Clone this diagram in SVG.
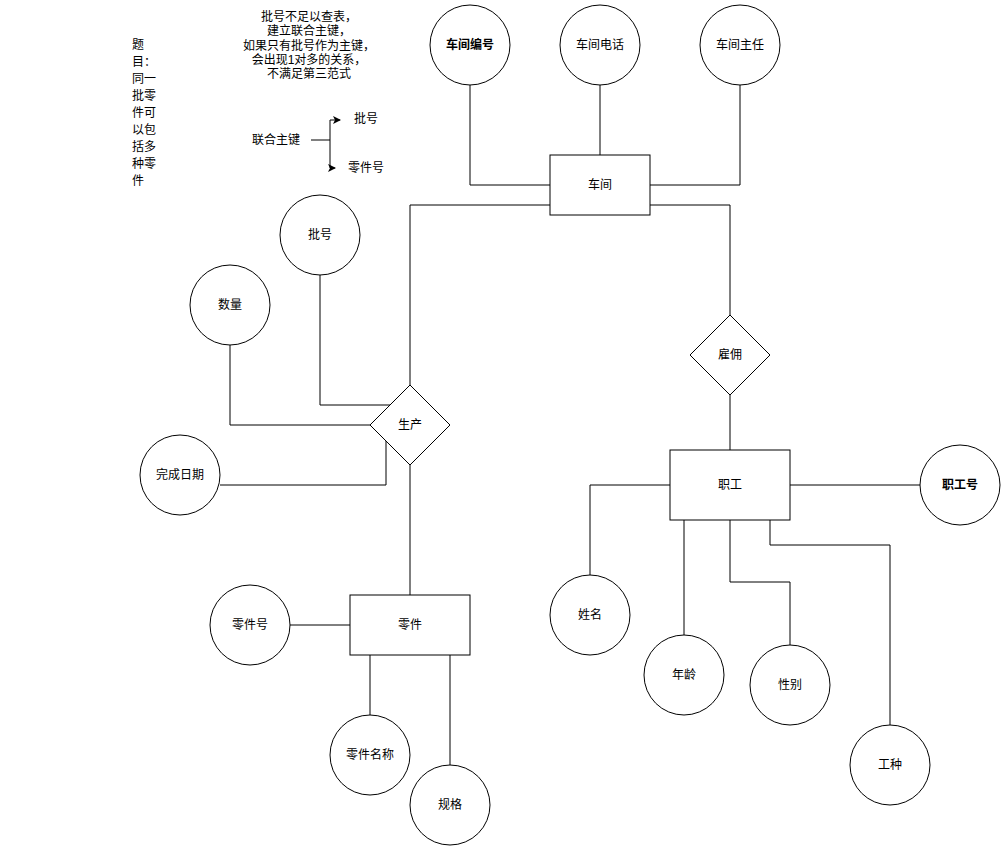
<svg xmlns="http://www.w3.org/2000/svg" width="1001" height="846" viewBox="0 0 1001 846">
<style>
text{font-family:"Liberation Sans","Noto Sans CJK SC",sans-serif;font-size:12px;fill:#000}
.c text,.n text{text-anchor:middle}
.shape{fill:#fff;stroke:#000;stroke-width:1}
.b{font-weight:bold}
.e{fill:none;stroke:#000;stroke-width:1}
</style>
<defs>
<marker id="ah" markerWidth="8" markerHeight="8" refX="7" refY="4" orient="auto" markerUnits="userSpaceOnUse">
<path d="M0,0 L8,4 L0,8 L2,4 Z" fill="#000"/>
</marker>
</defs>
<rect width="1001" height="846" fill="#fff"/>

<g id="connectors">
<polyline class="e" points="470,85 470,185 550,185"/>
<polyline class="e" points="600,85 600,155"/>
<polyline class="e" points="740,85 740,185 650,185"/>
<polyline class="e" points="550,205 410,205 410,385"/>
<polyline class="e" points="650,205 730,205 730,315"/>
<polyline class="e" points="320,275 320,405 390,405"/>
<polyline class="e" points="230,345 230,425 370,425"/>
<polyline class="e" points="220,485 386,485 386,441"/>
<polyline class="e" points="410,465 410,595"/>
<polyline class="e" points="290,625 350,625"/>
<polyline class="e" points="370,655 370,715"/>
<polyline class="e" points="450,655 450,765"/>
<polyline class="e" points="730,395 730,450"/>
<polyline class="e" points="790,485 920,485"/>
<polyline class="e" points="670,485 590,485 590,575"/>
<polyline class="e" points="684,520 684,635"/>
<polyline class="e" points="730,520 730,582 790,582 790,645"/>
<polyline class="e" points="770,520 770,545 890,545 890,725"/>
<polyline class="e" points="311,140 330,140"/>
<polyline class="e" points="330,140 330,120 340,120" marker-end="url(#ah)"/>
<polyline class="e" points="330,140 330,168 335,168" marker-end="url(#ah)"/>
</g>

<g id="note-left">
<text x="132" y="49">题</text>
<text x="132" y="66">目：</text>
<text x="132" y="83">同一</text>
<text x="132" y="100">批零</text>
<text x="132" y="117">件可</text>
<text x="132" y="134">以包</text>
<text x="132" y="151">括多</text>
<text x="132" y="168">种零</text>
<text x="132" y="185">件</text>
</g>

<g id="note-top" text-anchor="middle">
<text x="309" y="21" text-anchor="middle">批号不足以查表，</text>
<text x="309" y="35" text-anchor="middle">建立联合主键，</text>
<text x="309" y="50" text-anchor="middle">如果只有批号作为主键，</text>
<text x="309" y="64" text-anchor="middle">会出现1对多的关系，</text>
<text x="309" y="78" text-anchor="middle">不满足第三范式</text>
</g>

<g id="note-key">
<text x="276" y="144" text-anchor="middle">联合主键</text>
<text x="366" y="123" text-anchor="middle">批号</text>
<text x="366" y="172" text-anchor="middle">零件号</text>
</g>

<g id="attr-cjbh" class="c"><circle class="shape" cx="470" cy="45" r="40"/><text class="b" x="470" y="49">车间编号</text></g>
<g id="attr-cjdh" class="c"><circle class="shape" cx="600" cy="45" r="40"/><text x="600" y="49">车间电话</text></g>
<g id="attr-cjzr" class="c"><circle class="shape" cx="740" cy="45" r="40"/><text x="740" y="49">车间主任</text></g>
<g id="ent-chejian" class="n"><rect class="shape" x="550" y="155" width="100" height="60"/><text x="600" y="189">车间</text></g>

<g id="attr-pihao" class="c"><circle class="shape" cx="320" cy="235" r="40"/><text x="320" y="239">批号</text></g>
<g id="attr-shuliang" class="c"><circle class="shape" cx="230" cy="305" r="40"/><text x="230" y="309">数量</text></g>
<g id="attr-wcrq" class="c"><circle class="shape" cx="180" cy="475" r="40"/><text x="180" y="479">完成日期</text></g>
<g id="rel-shengchan" class="n"><polygon class="shape" points="410,385 450,425 410,465 370,425"/><text x="410" y="429">生产</text></g>

<g id="ent-lingjian" class="n"><rect class="shape" x="350" y="595" width="120" height="60"/><text x="410" y="629">零件</text></g>
<g id="attr-ljh" class="c"><circle class="shape" cx="250" cy="625" r="40"/><text x="250" y="629">零件号</text></g>
<g id="attr-ljmc" class="c"><circle class="shape" cx="370" cy="755" r="40"/><text x="370" y="759">零件名称</text></g>
<g id="attr-guige" class="c"><circle class="shape" cx="450" cy="805" r="40"/><text x="450" y="809">规格</text></g>

<g id="rel-guyong" class="n"><polygon class="shape" points="730,315 770,355 730,395 690,355"/><text x="730" y="359">雇佣</text></g>
<g id="ent-zhigong" class="n"><rect class="shape" x="670" y="450" width="120" height="70"/><text x="730" y="489">职工</text></g>
<g id="attr-zgh" class="c"><circle class="shape" cx="960" cy="485" r="40"/><text class="b" x="960" y="489">职工号</text></g>
<g id="attr-xingming" class="c"><circle class="shape" cx="590" cy="615" r="40"/><text x="590" y="619">姓名</text></g>
<g id="attr-nianling" class="c"><circle class="shape" cx="684" cy="675" r="40"/><text x="684" y="679">年龄</text></g>
<g id="attr-xingbie" class="c"><circle class="shape" cx="790" cy="685" r="40"/><text x="790" y="689">性别</text></g>
<g id="attr-gongzhong" class="c"><circle class="shape" cx="890" cy="765" r="40"/><text x="890" y="769">工种</text></g>
</svg>
